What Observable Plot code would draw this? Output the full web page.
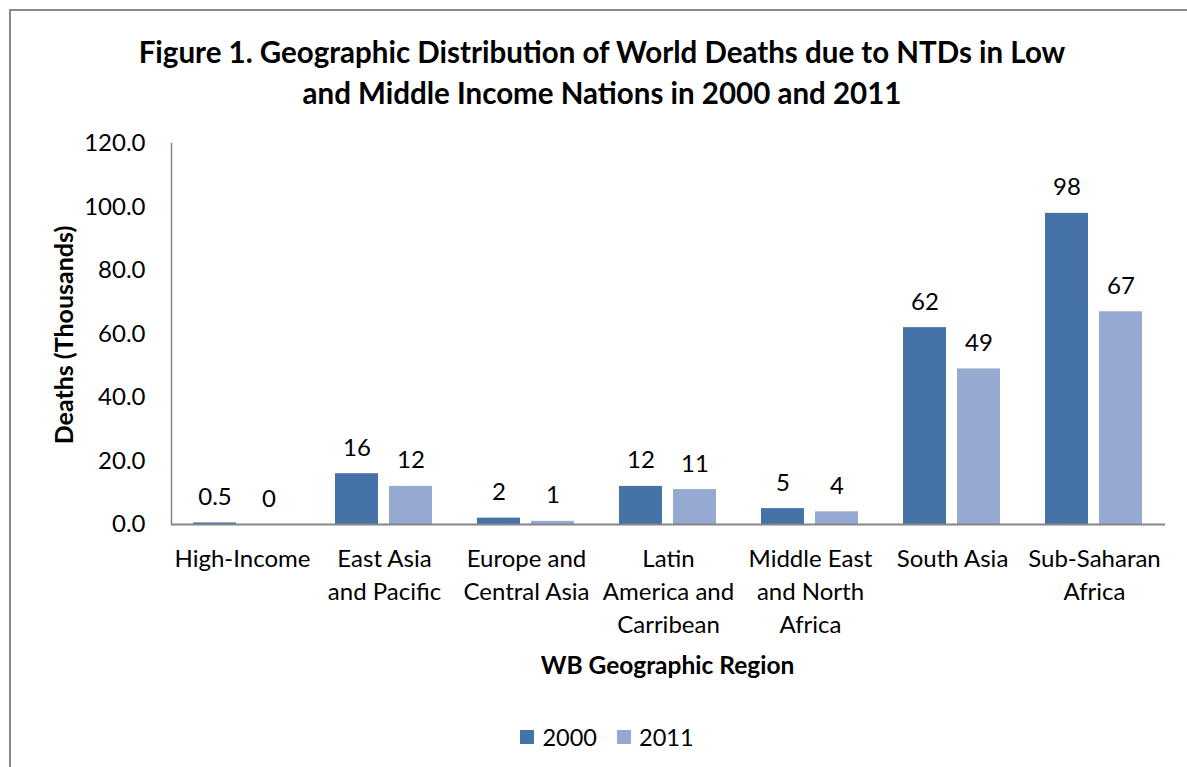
<!DOCTYPE html>
<html>
<head>
<meta charset="utf-8">
<script src="https://cdn.jsdelivr.net/npm/d3@7"></script>
<script src="https://cdn.jsdelivr.net/npm/@observablehq/plot@0.6"></script>
<style>
  body { margin: 0; background: #fff; }
  #page { position: relative; width: 1187px; height: 767px; overflow: hidden; font-family: Lato, "Open Sans", sans-serif; color: #000; background: #fff; }
  #border { position: absolute; left: 9px; top: 9px; width: 1400px; height: 1000px; border-left: 2px solid #898989; border-top: 2px solid #898989; }
  #title { position: absolute; left: 0; top: 31px; width: 1204px; text-align: center; font-weight: bold; font-size: 29.5px; line-height: 41px; }
  #chart { position: absolute; left: 0; top: 120px; }
  #ytitle { position: absolute; left: 63px; top: 335px; transform: translate(-50%, -50%) rotate(-90deg); white-space: nowrap; font-weight: bold; font-size: 25px; }
  #xtitle { position: absolute; left: 169px; top: 650px; width: 997px; text-align: center; font-weight: bold; font-size: 24.5px; }
  #legend { position: absolute; left: 0; top: 723px; width: 1214px; display: flex; justify-content: center; align-items: center; font-size: 23.5px; }
  #legend .item { display: flex; align-items: center; margin: 0 10px; }
  #legend .swatch { width: 14px; height: 14px; margin-right: 8px; }
</style>
</head>
<body>
<div id="page">
  <div id="border"></div>
  <div id="title">Figure 1. Geographic Distribution of World Deaths due to NTDs in Low<br>and Middle Income Nations in 2000 and 2011</div>
  <div id="chart"></div>
  <div id="ytitle">Deaths (Thousands)</div>
  <div id="xtitle">WB Geographic Region</div>
  <div id="legend"></div>
</div>
<script>
// World Bank regions and their (wrapped) axis labels
const regions = [
  "High-Income",
  "East Asia and Pacific",
  "Europe and Central Asia",
  "Latin America and Carribean",
  "Middle East and North Africa",
  "South Asia",
  "Sub-Saharan Africa"
];
const regionLabels = [
  "High-Income",
  "East Asia\nand Pacific",
  "Europe and\nCentral Asia",
  "Latin\nAmerica and\nCarribean",
  "Middle East\nand North\nAfrica",
  "South Asia",
  "Sub-Saharan\nAfrica"
];
const years = ["2000", "2011"];
// Deaths due to NTDs, thousands
const deaths2000 = [0.5, 16, 2, 12, 5, 62, 98];
const deaths2011 = [0, 12, 1, 11, 4, 49, 67];
const yTicks = [0, 20, 40, 60, 80, 100, 120];
const yearColors = ["#4572A7", "#95A9D1"];

const rows = regions.flatMap((region, i) => [
  {region, year: years[0], deaths: deaths2000[i]},
  {region, year: years[1], deaths: deaths2011[i]}
]);

const chart = Plot.plot({
  width: 1187,
  height: 580,
  marginTop: 23,
  marginLeft: 169,
  marginRight: 21,
  marginBottom: 176,
  style: {fontFamily: "Lato, 'Open Sans', sans-serif", fontSize: "24px", color: "#000", background: "transparent"},
  fx: {domain: regions, padding: 0, label: null},
  x: {domain: years, paddingInner: 0.2, paddingOuter: 0.3945, axis: null},
  y: {domain: [0, 120], label: null},
  color: {domain: years, range: yearColors},
  marks: [
    Plot.barY(rows, {fx: "region", x: "year", y: "deaths", fill: "year"}),
    Plot.text(rows, {fx: "region", x: "year", y: "deaths", text: "deaths", lineAnchor: "bottom", dy: -18, fill: "#000"}),
    Plot.ruleY([0], {stroke: "#868686", strokeWidth: 2}),
    Plot.frame({anchor: "left", facetAnchor: "left", stroke: "#868686", strokeWidth: 1.5}),
    Plot.axisY({ticks: yTicks, tickFormat: d3.format(".1f"), tickSize: 0, tickPadding: 26, label: null}),
    Plot.axisFx({
      anchor: "bottom",
      tickSize: 0,
      tickPadding: 19,
      lineHeight: 1.375,
      tickFormat: (r) => regionLabels[regions.indexOf(r)],
      label: null
    })
  ]
});
document.getElementById("chart").appendChild(chart);

// Legend built from the same colour scale
const legend = document.getElementById("legend");
years.forEach((y, i) => {
  const item = document.createElement("div");
  item.className = "item";
  const sw = document.createElement("div");
  sw.className = "swatch";
  sw.style.background = yearColors[i];
  const label = document.createElement("span");
  label.textContent = y;
  item.appendChild(sw);
  item.appendChild(label);
  legend.appendChild(item);
});
</script>
</body>
</html>
